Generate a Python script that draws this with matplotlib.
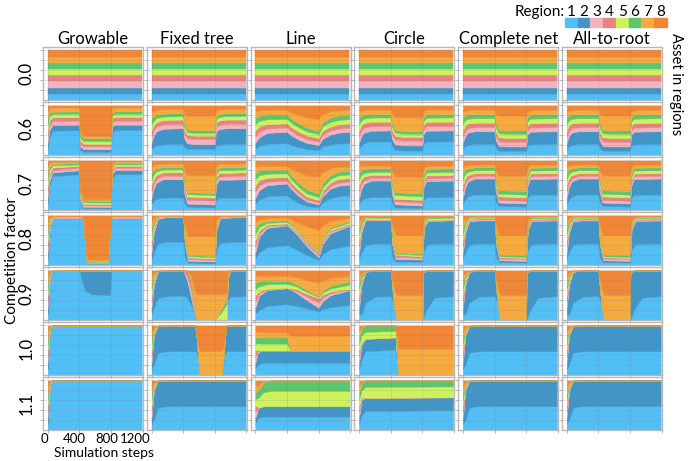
import matplotlib
matplotlib.use("Agg")
import matplotlib.pyplot as plt
import matplotlib.transforms as mtransforms
import numpy as np

plt.rcParams['font.family'] = ['Lato', 'DejaVu Sans']

topologies = ["Growable", "Fixed tree", "Line", "Circle", "Complete net", "All-to-root"]
factors = ["0.0", "0.6", "0.7", "0.8", "0.9", "1.0", "1.1"]
regions = ["1", "2", "3", "4", "5", "6", "7", "8"]
region_colors = ["#52BEF6", "#4196C7", "#F5B1BC", "#E68483",
                 "#CDF35C", "#5DC56D", "#F4AA3E", "#EF8736"]
step_ticks = [0, 400, 800, 1200]

# Each panel: rows of [step, share of region 1 .. region 8] in percent
uniform = [[0, 12.5, 12.5, 12.5, 12.5, 12.5, 12.5, 12.5, 12.5],
           [1190, 12.5, 12.5, 12.5, 12.5, 12.5, 12.5, 12.5, 12.5]]

growable_06 = [[0, 12.5, 12.5, 12.5, 12.5, 12.5, 12.5, 12.5, 12.5],
               [20, 35, 14, 11, 10, 8, 8, 8, 6],
               [60, 49, 11, 8.5, 8, 6, 5, 8, 4.5],
               [400, 50, 11, 8, 8, 6, 5, 8, 4],
               [410, 10, 7, 6, 6, 6, 6, 6, 53],
               [450, 6, 6, 6, 5, 5.5, 6, 4.5, 61],
               [550, 6, 5.5, 6, 5, 5.5, 6, 4, 62],
               [800, 6, 5.5, 6, 5, 5.5, 6, 4, 62],
               [810, 45, 12, 9, 8, 6, 5, 8, 7],
               [850, 50, 11, 8, 8, 6, 5, 8, 4],
               [1190, 50, 11, 8, 8, 6, 5, 8, 4]]
fixed_06 = [[0, 12.5, 12.5, 12.5, 12.5, 12.5, 12.5, 12.5, 12.5],
            [25, 16, 22, 11, 10, 9.5, 9, 11, 11.5],
            [60, 19.5, 28, 10, 9, 8, 7, 9.5, 9],
            [150, 21.5, 31.5, 9, 8.5, 7, 6, 9, 7.5],
            [400, 22, 32, 9, 8.5, 7, 6, 8.5, 7],
            [415, 15, 18, 10, 8, 6.5, 6, 18, 18.5],
            [450, 12.5, 11, 10, 7, 5.5, 5.5, 27, 21.5],
            [550, 12, 10, 10, 7, 5.5, 5.5, 29, 21],
            [800, 12, 10, 10, 7, 5.5, 5.5, 29, 21],
            [815, 19, 28, 9.5, 8.5, 7, 6, 11, 11],
            [850, 21, 31, 9, 8.5, 7, 6, 9, 8.5],
            [950, 22, 32, 9, 8.5, 7, 6, 8.5, 7],
            [1190, 22, 32, 9, 8.5, 7, 6, 8.5, 7]]
line_06 = [[0, 12.5, 12.5, 12.5, 12.5, 12.5, 12.5, 12.5, 12.5],
           [50, 18, 18, 11, 11, 11, 10.5, 10.5, 10],
           [150, 22.5, 22, 9, 9, 9.5, 9.5, 9.5, 9],
           [400, 24, 23, 8.5, 8.3, 9, 9, 9.7, 8.5],
           [450, 20, 20, 8.3, 8.2, 9, 8.5, 12, 14],
           [550, 15, 16, 8, 8, 8.5, 8, 17, 19.5],
           [650, 12, 12.5, 7.5, 7.5, 8.3, 7.5, 20.5, 24.2],
           [800, 10, 10, 7, 7, 8, 7, 23, 28],
           [850, 17, 16, 8, 8, 9, 8, 16, 18],
           [950, 21, 20, 8.3, 8.3, 9, 8.7, 12.5, 12.2],
           [1050, 23, 22, 8.3, 8.3, 9, 9, 10.5, 9.9],
           [1190, 24, 23, 8.3, 8.3, 9, 9, 9.9, 8.5]]
circle_06 = [[0, 12.5, 12.5, 12.5, 12.5, 12.5, 12.5, 12.5, 12.5],
             [25, 18, 19, 11, 11, 10, 10, 10.5, 10.5],
             [60, 24, 21, 10, 9.5, 9, 8, 9.5, 9],
             [150, 27, 22, 9, 9, 8.5, 7, 9, 8.5],
             [400, 27.5, 22, 9, 9, 8.3, 7, 9, 8.2],
             [415, 18, 15, 9.5, 8.5, 7, 6.5, 18, 17.5],
             [450, 10.5, 11, 9.7, 7.8, 6.3, 5.7, 26, 23],
             [550, 9, 10.3, 9.7, 7.6, 6.2, 5.6, 27.6, 24],
             [800, 9, 10.3, 9.7, 7.6, 6.2, 5.6, 27.6, 24],
             [815, 23, 20, 9.2, 8.8, 8, 7, 12, 12],
             [850, 27, 22, 9, 9, 8.3, 7, 9.5, 8.2],
             [1190, 27.5, 22, 9, 9, 8.3, 7, 9, 8.2]]
complete_06 = [[0, 12.5, 12.5, 12.5, 12.5, 12.5, 12.5, 12.5, 12.5],
               [25, 17, 20, 11, 11, 10.5, 10, 10, 10.5],
               [60, 20.5, 24.5, 9, 9.5, 9.5, 9, 8.5, 9.5],
               [150, 22, 26, 8.3, 9, 9, 8.3, 8.4, 9],
               [400, 22, 26, 8.3, 9, 9, 8.3, 8.4, 9],
               [415, 14, 16, 8.8, 8.7, 8.7, 7.8, 18, 18],
               [450, 9, 9.5, 9, 8.3, 8.3, 7, 28.5, 20.4],
               [550, 8.3, 9, 9, 8.3, 8.3, 6.9, 29.7, 20.5],
               [800, 8.3, 9, 9, 8.3, 8.3, 6.9, 29.7, 20.5],
               [815, 19, 22, 8.5, 8.8, 8.8, 8, 12, 12.9],
               [850, 21.5, 25.5, 8.3, 9, 9, 8.3, 8.8, 9.6],
               [1190, 22, 26, 8.3, 9, 9, 8.3, 8.4, 9]]
root_06 = complete_06

growable_07 = [[0, 12.5, 12.5, 12.5, 12.5, 12.5, 12.5, 12.5, 12.5],
               [20, 45, 12, 8, 8, 8, 7, 7, 5],
               [60, 68, 8, 5, 5, 4, 3, 4, 3],
               [400, 72, 8, 5, 4, 3, 3, 3, 2],
               [410, 14, 5, 4, 4, 4, 4, 4, 61],
               [450, 3.5, 3, 3, 3, 3, 3.5, 3, 78],
               [800, 3, 3, 3, 3, 3, 3, 4, 78],
               [810, 62, 10, 5, 4, 4, 3, 4, 8],
               [850, 72, 8, 5, 4, 3, 3, 3, 2],
               [1190, 72, 8, 5, 4, 3, 3, 3, 2]]
fixed_07 = [[0, 12.5, 12.5, 12.5, 12.5, 12.5, 12.5, 12.5, 12.5],
            [25, 17, 25, 10, 10, 9, 9, 9.5, 10.5],
            [60, 22, 33, 8, 8, 7, 6, 8, 8],
            [150, 25, 37, 7, 7, 6, 5, 7, 6],
            [400, 25, 37, 7, 7, 6, 5, 7, 6],
            [415, 14, 20, 8, 6.5, 5.5, 4.5, 22, 19.5],
            [450, 6, 7, 8, 6, 5, 4, 34, 30],
            [800, 5, 6, 8, 6, 5, 4, 36, 30],
            [815, 20, 30, 8, 7, 6, 5, 12, 12],
            [850, 24.5, 36, 7, 7, 6, 5, 7.5, 7],
            [1190, 25, 37, 7, 7, 6, 5, 7, 6]]
line_07 = [[0, 12.5, 12.5, 12.5, 12.5, 12.5, 12.5, 12.5, 12.5],
           [50, 21, 19, 10, 10, 10, 10, 9, 11],
           [150, 27.5, 22.5, 7, 8, 8, 8, 7.5, 11.5],
           [400, 29.6, 23.7, 5.9, 7.4, 7.4, 7.4, 7.2, 11.4],
           [450, 23, 20, 5.5, 7, 7.5, 7.5, 13, 16.5],
           [550, 14, 14, 5, 6.5, 7, 7.5, 22, 24],
           [650, 8, 9, 4.2, 5.8, 6.5, 7.5, 28, 31],
           [800, 5.2, 6, 3.7, 5.2, 6, 7.4, 33.3, 33.2],
           [850, 15, 13, 4.5, 6, 7, 7.5, 23, 24],
           [950, 24, 19, 5.5, 7, 7.4, 7.4, 14, 15.7],
           [1050, 27.5, 21.5, 6, 7.4, 7.4, 7.4, 10, 12.8],
           [1190, 29, 22, 6, 7.4, 7.4, 7.4, 8, 12.8]]
circle_07 = [[0, 12.5, 12.5, 12.5, 12.5, 12.5, 12.5, 12.5, 12.5],
             [25, 18, 23, 10, 10, 9.5, 10, 9, 10.5],
             [60, 23, 30, 7, 7.5, 7, 8.5, 6, 11],
             [150, 26, 33.4, 5.2, 6, 6, 7.4, 5, 11],
             [400, 26, 33.4, 5.2, 6, 6, 7.4, 5, 11],
             [415, 14, 17, 5.6, 5.6, 6.7, 6.7, 22, 22.4],
             [450, 5, 6.5, 6, 5.2, 7.4, 6, 31.5, 32.4],
             [800, 3.7, 5.2, 6, 5.2, 7.4, 6, 33.3, 33.2],
             [815, 20, 26, 5.5, 5.8, 6.5, 7, 13, 16.2],
             [850, 25.5, 33, 5.2, 6, 6, 7.4, 5.6, 11.3],
             [1190, 26, 33.4, 5.2, 6, 6, 7.4, 5, 11]]
complete_07 = [[0, 12.5, 12.5, 12.5, 12.5, 12.5, 12.5, 12.5, 12.5],
               [25, 20, 24, 9.5, 9.5, 9.5, 9, 8.5, 10],
               [60, 27, 30, 6.5, 6.5, 7, 6.5, 6.5, 10],
               [150, 31, 32.5, 5.5, 5.5, 6.2, 5.5, 5.5, 8.3],
               [400, 31, 32.5, 5.5, 5.5, 6.2, 5.5, 5.5, 8.3],
               [415, 18, 18, 5.5, 6.2, 5.8, 6.2, 20, 20.3],
               [450, 8, 7, 5.5, 6.9, 5.5, 6.9, 30, 30.2],
               [800, 6.9, 6.2, 5.5, 6.9, 5.5, 6.9, 31.1, 31],
               [815, 24, 24, 5.5, 6, 6, 6, 13, 15.5],
               [850, 30.5, 32, 5.5, 5.5, 6.2, 5.5, 6, 8.8],
               [1190, 31, 32.5, 5.5, 5.5, 6.2, 5.5, 5.5, 8.3]]
root_07 = complete_07

growable_08 = [[0, 12.5, 12.5, 12.5, 12.5, 12.5, 12.5, 12.5, 12.5],
               [30, 75, 4, 4, 4, 4, 3, 3, 3],
               [80, 94, 1, 1, 1, 1, 0.7, 0.7, 0.6],
               [420, 94, 1, 1, 1, 1, 0.7, 0.7, 0.6],
               [445, 88, 1, 1.5, 1.5, 1, 1, 1, 5],
               [495, 2, 1, 1, 1, 1, 1, 3, 90],
               [760, 2, 1, 1, 1, 1.5, 1.5, 3, 89],
               [797, 90, 1, 1, 1, 1, 1, 1, 4],
               [820, 94, 1, 1, 1, 1, 0.7, 0.7, 0.6],
               [1190, 94, 1, 1, 1, 1, 0.7, 0.7, 0.6]]
fixed_08 = [[0, 12.5, 12.5, 12.5, 12.5, 12.5, 12.5, 12.5, 12.5],
            [30, 25, 40, 6, 6, 6, 6, 5, 6],
            [80, 43, 50, 2, 1.5, 1, 1, 0.8, 0.7],
            [200, 47, 50, 1, 0.5, 0.5, 0.3, 0.4, 0.3],
            [400, 47, 50, 1, 0.5, 0.5, 0.3, 0.4, 0.3],
            [420, 16, 25, 4, 4, 3, 3, 23, 22],
            [460, 4, 4.5, 3.5, 3.5, 2.5, 2.5, 38, 41.5],
            [800, 3, 4, 3, 3, 2.5, 2.5, 40, 42],
            [820, 30, 40, 3, 3, 2, 2, 10, 10],
            [870, 45, 50, 1.2, 1, 0.8, 0.6, 0.7, 0.7],
            [1190, 47, 50, 1, 0.5, 0.5, 0.3, 0.4, 0.3]]
line_08 = [[0, 12.5, 12.5, 12.5, 12.5, 12.5, 12.5, 12.5, 12.5],
           [50, 26, 32, 6, 6, 7, 7, 8, 8],
           [150, 36, 39, 3, 3, 4, 4, 5.5, 5.5],
           [400, 40, 40, 2, 2, 3, 3, 5, 5],
           [500, 33, 33, 3, 3, 2.5, 2.5, 12, 11],
           [650, 20, 18, 4, 4, 2, 2, 28, 22],
           [800, 10, 5, 4.5, 4.5, 1.5, 1.5, 43, 30],
           [850, 22, 20, 4, 4, 2.5, 2.5, 25, 20],
           [950, 32, 32, 3, 3, 3, 3, 13, 11],
           [1190, 39, 40, 2, 2, 3, 3, 5.5, 5.5]]
circle_08 = [[0, 12.5, 12.5, 12.5, 12.5, 12.5, 12.5, 12.5, 12.5],
             [30, 25, 40, 6, 6, 6, 6, 5, 6],
             [80, 40, 50, 1.5, 1.5, 3, 3, 0.5, 0.5],
             [200, 43, 47, 1, 1, 3, 3, 1, 1],
             [400, 43, 47, 1, 1, 3, 3, 1, 1],
             [420, 15, 25, 5, 5, 5, 5, 20, 20],
             [460, 7, 5, 4, 4, 3, 3, 35, 39],
             [800, 6.5, 4.5, 3.5, 3.5, 2.5, 2.5, 37, 40],
             [820, 30, 45, 3, 3, 3, 3, 7, 6],
             [870, 42, 47, 1, 1, 3.5, 3.5, 1, 1],
             [1190, 43, 47, 1, 1, 3, 3, 1, 1]]
complete_08 = [[0, 12.5, 12.5, 12.5, 12.5, 12.5, 12.5, 12.5, 12.5],
               [30, 25, 40, 6, 6, 6, 6, 5, 6],
               [80, 41, 47, 2.5, 2.5, 2, 2, 1.5, 1.5],
               [200, 43, 47, 2, 2, 1.5, 1.5, 1.5, 1.5],
               [400, 43, 47, 2, 2, 1.5, 1.5, 1.5, 1.5],
               [420, 15, 25, 4, 4, 3, 4, 23, 22],
               [460, 5.5, 4, 3.5, 2.5, 2, 3.5, 39, 40],
               [800, 5, 3.5, 3.5, 2.5, 2, 3.5, 40, 40],
               [820, 30, 40, 3, 3, 2, 2, 10, 10],
               [870, 42, 47, 2, 2, 1.5, 1.5, 2, 2],
               [1190, 43, 47, 2, 2, 1.5, 1.5, 1.5, 1.5]]
root_08 = complete_08

growable_09 = [[0, 12.5, 12.5, 12.5, 12.5, 12.5, 12.5, 12.5, 12.5],
               [30, 85, 3, 2, 2, 2, 2, 2, 2],
               [60, 99, 0.2, 0.2, 0.2, 0.1, 0.1, 0.1, 0.1],
               [400, 100, 0, 0, 0, 0, 0, 0, 0],
               [420, 85, 15, 0, 0, 0, 0, 0, 0],
               [470, 60, 40, 0, 0, 0, 0, 0, 0],
               [550, 52, 48, 0, 0, 0, 0, 0, 0],
               [790, 50, 49, 0.5, 0.5, 0, 0, 0, 0],
               [805, 100, 0, 0, 0, 0, 0, 0, 0],
               [1190, 100, 0, 0, 0, 0, 0, 0, 0]]
fixed_09 = [[0, 12.5, 12.5, 12.5, 12.5, 12.5, 12.5, 12.5, 12.5],
            [30, 25, 45, 5, 5, 5, 5, 5, 5],
            [80, 44, 54, 0.5, 0.5, 0.3, 0.3, 0.2, 0.2],
            [200, 48, 52, 0, 0, 0, 0, 0, 0],
            [400, 49, 51, 0, 0, 0, 0, 0, 0],
            [450, 45, 35, 8, 12, 0, 0, 0, 0],
            [500, 30, 15, 15, 20, 0, 0, 8, 12],
            [540, 10, 3, 5, 8, 0, 0, 34, 40],
            [570, 0, 0, 1, 1, 0, 0, 50, 48],
            [800, 0, 0, 0, 0, 0, 0, 52, 48],
            [880, 0, 0, 0, 0, 15, 6, 31, 48],
            [950, 0, 0, 0, 0, 32, 10, 10, 48],
            [965, 40, 45, 0, 0, 5, 2, 3, 5],
            [1000, 47, 53, 0, 0, 0, 0, 0, 0],
            [1190, 48, 52, 0, 0, 0, 0, 0, 0]]
line_09 = [[0, 12.5, 12.5, 12.5, 12.5, 12.5, 12.5, 12.5, 12.5],
           [50, 20, 30, 4, 4, 10, 10, 11, 11],
           [150, 28, 32, 1.5, 1.5, 9, 7, 10.5, 10.5],
           [400, 32, 32, 0.5, 0.5, 8, 6, 10, 11],
           [500, 29, 28, 3, 3, 6, 5, 13, 13],
           [650, 23, 17, 7, 6, 4, 3.5, 20, 19.5],
           [800, 17, 8, 10, 9, 2, 2, 27, 25],
           [850, 22, 16, 7, 6, 4, 4, 21, 20],
           [950, 26, 24, 4, 3.5, 6, 5.5, 15.5, 15.5],
           [1190, 30, 30, 1.5, 1.5, 8, 7, 11, 11]]
circle_09 = [[0, 12.5, 12.5, 12.5, 12.5, 12.5, 12.5, 12.5, 12.5],
             [30, 10, 60, 4, 4, 6, 6, 5, 5],
             [80, 35, 62, 0.5, 0.5, 0.8, 0.7, 0.3, 0.2],
             [200, 47, 53, 0, 0, 0, 0, 0, 0],
             [400, 48, 52, 0, 0, 0, 0, 0, 0],
             [440, 30, 0, 0, 0, 0, 0, 35, 35],
             [470, 0, 0, 0, 0, 0, 0, 50, 50],
             [800, 0, 0, 0, 0, 0, 0, 50, 50],
             [805, 0, 95, 0, 0, 0, 0, 2.5, 2.5],
             [850, 20, 80, 0, 0, 0, 0, 0, 0],
             [950, 45, 55, 0, 0, 0, 0, 0, 0],
             [1190, 48, 52, 0, 0, 0, 0, 0, 0]]
complete_09 = circle_09
root_09 = circle_09

growable_10 = [[0, 12.5, 12.5, 12.5, 12.5, 12.5, 12.5, 12.5, 12.5],
               [30, 88, 2, 2, 2, 2, 1.5, 1.5, 1],
               [60, 100, 0, 0, 0, 0, 0, 0, 0],
               [1190, 100, 0, 0, 0, 0, 0, 0, 0]]
fixed_10 = [[0, 12.5, 12.5, 12.5, 12.5, 12.5, 12.5, 12.5, 12.5],
            [30, 20, 60, 3, 3, 3, 3, 4, 4],
            [80, 45, 54, 0.2, 0.2, 0.2, 0.2, 0.1, 0.1],
            [200, 48, 52, 0, 0, 0, 0, 0, 0],
            [550, 48, 52, 0, 0, 0, 0, 0, 0],
            [570, 46, 30, 0, 0, 0, 0, 4, 20],
            [590, 30, 5, 0, 0, 0, 0, 20, 45],
            [610, 2, 0, 0, 0, 0, 0, 46, 52],
            [885, 0, 0, 0, 0, 0, 0, 48, 52],
            [905, 20, 5, 0, 0, 0, 0, 28, 47],
            [925, 42, 25, 0, 0, 0, 0, 8, 25],
            [945, 48, 50, 0, 0, 0, 0, 0, 2],
            [960, 48, 52, 0, 0, 0, 0, 0, 0],
            [1190, 48, 52, 0, 0, 0, 0, 0, 0]]
line_10 = [[0, 12.5, 12.5, 12.5, 12.5, 12.5, 12.5, 12.5, 12.5],
           [30, 20, 25, 3, 3, 13, 13, 11, 12],
           [80, 24, 25.5, 0, 0, 13.8, 12.4, 10.3, 14],
           [400, 24, 25.5, 0, 0, 13.8, 12.4, 10.3, 14],
           [440, 24, 25.5, 0, 0, 0, 0, 29.8, 20.7],
           [1190, 24, 25.5, 0, 0, 0, 0, 29.8, 20.7]]
circle_10 = [[0, 12.5, 12.5, 12.5, 12.5, 12.5, 12.5, 12.5, 12.5],
             [30, 30, 30, 3, 3, 14, 14, 3, 3],
             [80, 48, 25, 0, 0, 14, 13, 0, 0],
             [460, 51, 25, 0, 0, 13, 11, 0, 0],
             [495, 0, 0, 0, 0, 0, 0, 53, 47],
             [1190, 0, 0, 0, 0, 0, 0, 53, 47]]
complete_10 = [[0, 12.5, 12.5, 12.5, 12.5, 12.5, 12.5, 12.5, 12.5],
               [30, 20, 60, 3, 3, 3, 3, 4, 4],
               [80, 45, 54, 0.2, 0.2, 0.2, 0.2, 0.1, 0.1],
               [200, 48, 52, 0, 0, 0, 0, 0, 0],
               [1190, 48, 52, 0, 0, 0, 0, 0, 0]]
root_10 = complete_10

growable_11 = growable_10
fixed_11 = complete_10
line_11 = [[0, 12.5, 12.5, 12.5, 12.5, 12.5, 12.5, 12.5, 12.5],
           [40, 25, 20, 0, 0, 20, 15, 10, 10],
           [100, 27, 21, 0, 0, 28, 20, 2, 2],
           [200, 27, 21, 0, 0, 31, 21, 0, 0],
           [1190, 27, 21, 0, 0, 31, 21, 0, 0]]
circle_11 = [[0, 12.5, 12.5, 12.5, 12.5, 12.5, 12.5, 12.5, 12.5],
             [30, 30, 30, 3, 3, 14, 14, 3, 3],
             [80, 38, 27, 0, 0, 22, 13, 0, 0],
             [1190, 40, 26, 0, 0, 22, 12, 0, 0]]
complete_11 = complete_10
root_11 = complete_10

panels = [
    [uniform] * 6,
    [growable_06, fixed_06, line_06, circle_06, complete_06, root_06],
    [growable_07, fixed_07, line_07, circle_07, complete_07, root_07],
    [growable_08, fixed_08, line_08, circle_08, complete_08, root_08],
    [growable_09, fixed_09, line_09, circle_09, complete_09, root_09],
    [growable_10, fixed_10, line_10, circle_10, complete_10, root_10],
    [growable_11, fixed_11, line_11, circle_11, complete_11, root_11],
]

W, H = 699, 461
fig = plt.figure(figsize=(W / 100, H / 100), dpi=100)

col_left = [43 + 103.8 * i for i in range(6)]
row_top = [47, 102, 157, 212, 267, 322, 377]
ax_w, ax_h = 100, 53
# horizontal nudge (pixels) of the step labels under the corner panel
label_nudge = [-3.0, -5.5, -4.5, -7.5]

for r, row in enumerate(panels):
    for c, frames in enumerate(row):
        ax = fig.add_axes([col_left[c] / W, 1 - (row_top[r] + ax_h) / H,
                           ax_w / W, ax_h / H])
        data = np.array(frames, dtype=float)
        steps = data[:, 0]
        shares = data[:, 1:].T
        shares = shares / shares.sum(axis=0)
        ax.stackplot(steps, shares, colors=region_colors,
                     edgecolor="face", linewidth=0.3)
        ax.set_xlim(-60, 1205)
        ax.set_ylim(0, 1.07)
        ax.set_xticks(step_ticks)
        ax.set_yticks([0.2, 0.4, 0.6, 0.8, 1.0])
        ax.set_axisbelow(False)
        ax.grid(True, color="#7f7f7f", alpha=0.22, linewidth=0.6)
        ax.tick_params(length=2, width=0.6, color="#aaaaaa",
                       labelleft=False, labelbottom=False)
        for s in ax.spines.values():
            s.set_color("#b8b8b8")
            s.set_linewidth(1.0)
        if r == 0:
            ax.set_title(topologies[c], fontsize=12, pad=2)
        if c == 0:
            ax.set_ylabel(factors[r], fontsize=12, labelpad=4)
        if r == len(panels) - 1 and c == 0:
            ax.tick_params(labelbottom=True, labelsize=9.5, pad=0.5)
            for lab, dx in zip(ax.get_xticklabels(), label_nudge):
                shift = mtransforms.ScaledTranslation(dx / 100, 0,
                                                      fig.dpi_scale_trans)
                lab.set_transform(lab.get_transform() + shift)

fig.text(104 / W, 1 - 453 / H, "Simulation steps", ha="center",
         va="center", fontsize=10)
fig.text(12 / W, 1 - 260 / H, "Competition factor", rotation=90,
         ha="center", va="center", fontsize=11)
fig.text(676 / W, 1 - 33 / H, "Asset in regions", rotation=270,
         ha="center", va="top", fontsize=10.5)

# Region legend: numbers above colour swatches
fig.text(565 / W, 1 - 12 / H, "Region:", ha="right", va="center", fontsize=11)
sw_w = 12.7
for i, (name, col) in enumerate(zip(regions, region_colors)):
    x0 = 565 + sw_w * i
    fig.patches.append(plt.Rectangle((x0 / W, 1 - 27 / H), sw_w / W, 9 / H,
                                     transform=fig.transFigure, color=col))
    fig.text((x0 + sw_w / 2) / W, 1 - 12 / H, name, ha="center",
             va="center", fontsize=11)

fig.savefig("out.png", dpi=100)
